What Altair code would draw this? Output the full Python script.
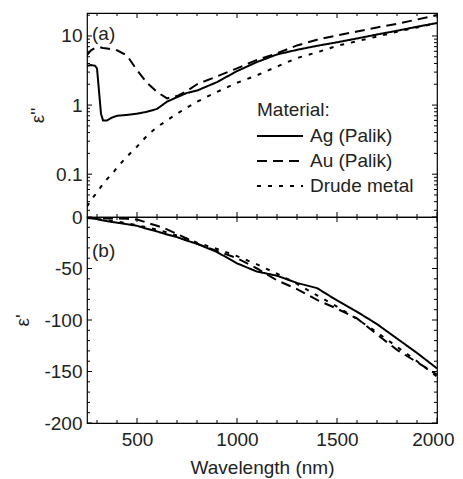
import altair as alt
import pandas as pd

# ---------------- data ----------------
wavelength = [250, 270, 290, 300, 310, 320, 330, 350, 375, 400, 450, 500, 550, 600, 650,
              700, 750, 800, 900, 1000, 1100, 1200, 1300, 1400, 1500, 1600, 1700, 1800, 1900, 2000]

materials = ["Ag (Palik)", "Au (Palik)", "Drude metal"]

# imaginary part eps''
ag_eps2 = [3.7, 3.8, 3.7, 3.4, 1.6, 0.75, 0.6, 0.6, 0.66, 0.7, 0.72, 0.75, 0.8, 0.88, 1.12,
           1.3, 1.5, 1.62, 2.15, 3.1, 4.2, 5.4, 6.3, 7.2, 8.1, 9.2, 10.5, 11.9, 13.6, 15.4]
au_eps2 = [5.3, 6.2, 6.7, 6.8, 6.8, 6.8, 6.7, 6.6, 6.4, 6.2, 5.2, 3.2, 2.1, 1.55, 1.25,
           1.35, 1.6, 2.0, 2.6, 3.4, 4.5, 5.6, 7.3, 8.8, 10.2, 11.6, 13.3, 15.0, 17.3, 20.0]
drude_eps2 = [0.034, 0.042, 0.05, 0.055, 0.06, 0.066, 0.072, 0.085, 0.1, 0.125, 0.18, 0.25, 0.36, 0.48, 0.6,
              0.75, 0.92, 1.12, 1.55, 2.1, 2.7, 3.6, 4.8, 5.8, 7.2, 8.4, 9.8, 11.5, 13.3, 15.4]

# real part eps'
ag_eps1 = [-1, -1.3, -1.8, -2, -2.5, -3, -3.3, -4, -4.8, -5.5, -7, -8.5, -11.5, -14, -17,
           -19.5, -23, -26, -34, -45, -53, -57, -64, -69, -81, -92, -104, -118, -132, -147]
au_eps1 = [-0.5, -0.7, -1, -1, -1.2, -1.3, -1.4, -1.5, -1.5, -1.5, -1.8, -2.5, -5.5, -8.5, -12,
           -16.5, -21, -26, -33, -40, -50, -61.5, -70, -80.5, -89, -98.5, -114, -129, -141, -153]
drude_eps1 = [-0.5, -1, -1.5, -2, -2.2, -2.5, -2.8, -3.2, -3.8, -4.5, -6, -8, -10, -12.5, -15,
              -18, -21, -25, -31, -38, -46, -55, -65, -76, -87, -99, -112, -126, -140, -155]

x_major = [500, 1000, 1500, 2000]
x_minor = [300, 400, 600, 700, 800, 900, 1100, 1200, 1300, 1400, 1600, 1700, 1800, 1900]
top_y_major = [0.1, 1, 10]
top_y_minor = [0.03, 0.04, 0.05, 0.06, 0.07, 0.08, 0.09,
               0.2, 0.3, 0.4, 0.5, 0.6, 0.7, 0.8, 0.9,
               2, 3, 4, 5, 6, 7, 8, 9, 20]
bot_y_major = [-200, -150, -100, -50, 0]
bot_y_minor = [-190, -180, -170, -160, -140, -130, -120, -110, -90, -80, -70, -60,
               -40, -30, -20, -10]

# ---------------- build tables ----------------
def long_table(series, col):
    rows = []
    for m, vals in zip(materials, series):
        for w, v in zip(wavelength, vals):
            rows.append({"wavelength": w, col: v, "material": m})
    return pd.DataFrame(rows)

top_df = long_table([ag_eps2, au_eps2, drude_eps2], "eps2")
bot_df = long_table([ag_eps1, au_eps1, drude_eps1], "eps1")

FONT = "Liberation Sans"
FS = 19
TXT = "#222222"
W, H_TOP, H_BOT = 350, 204, 206
MAJ, MIN = 5, 3

xs = alt.Scale(domain=[250, 2000], nice=False, zero=False)
ys_top = alt.Scale(type="log", domain=[0.024, 21.5], nice=False)
ys_bot = alt.Scale(domain=[-200, 0], nice=False, zero=False)

dash = alt.StrokeDash("material:N",
                      scale=alt.Scale(domain=materials, range=[[1, 0], [10, 6], [4, 7]]),
                      legend=None)

last_x = x_major[-1]
x_top = alt.X("wavelength:Q", scale=xs, axis=None)
x_bot = alt.X("wavelength:Q", scale=xs,
              axis=alt.Axis(values=x_major, format="d", title="Wavelength (nm)",
                            ticks=False, domain=False, labelFlush=False,
                            labelAlign={"condition": {"test": f"datum.value == {last_x}", "value": "right"},
                                        "value": "center"},
                            labelOffset={"condition": {"test": f"datum.value == {last_x}", "value": 17},
                                         "value": 0},
                            labelPadding=7, titlePadding=9))
y_top = alt.Y("eps2:Q", scale=ys_top,
              axis=alt.Axis(values=top_y_major, format="~g", title="ε''",
                            ticks=False, domain=False, labelPadding=5, titlePadding=8))
y_bot = alt.Y("eps1:Q", scale=ys_bot,
              axis=alt.Axis(values=bot_y_major, labelExpr="'' + datum.value", title="ε'",
                            ticks=False, domain=False, labelPadding=5, titlePadding=11))


def tick_layers(xenc, yenc, ycol, ymaj, ymin, H):
    layers = []
    for vals, L in ((x_major, MAJ), (x_minor, MIN)):
        d = pd.DataFrame({"wavelength": vals})
        layers.append(alt.Chart(d).mark_rule(color="black", strokeWidth=1)
                      .encode(x=xenc, y=alt.value(0), y2=alt.value(L)))
        layers.append(alt.Chart(d).mark_rule(color="black", strokeWidth=1)
                      .encode(x=xenc, y=alt.value(H), y2=alt.value(H - L)))
    for vals, L in ((ymaj, MAJ), (ymin, MIN)):
        d = pd.DataFrame({ycol: vals})
        layers.append(alt.Chart(d).mark_rule(color="black", strokeWidth=1)
                      .encode(y=yenc, x=alt.value(0), x2=alt.value(L)))
        layers.append(alt.Chart(d).mark_rule(color="black", strokeWidth=1)
                      .encode(y=yenc, x=alt.value(W), x2=alt.value(W - L)))
    return layers


dummy = pd.DataFrame({"a": [0]})

def label(text, x, y):
    return alt.Chart(dummy).mark_text(text=text, align="left", baseline="middle",
                                      font=FONT, fontSize=FS, color=TXT).encode(
        x=alt.value(x), y=alt.value(y))

# legend (manual, inside panel a)
leg_x0, leg_x1, leg_tx = 170, 216, 223
leg_rows = [123, 148, 173]
legend_layers = [label("Material:", leg_x0, 97)]
for m, yy, sd in zip(materials, leg_rows, [[1, 0], [10, 6], [4, 7]]):
    legend_layers.append(alt.Chart(dummy).mark_rule(color="black", strokeWidth=2, strokeDash=sd)
                         .encode(x=alt.value(leg_x0), x2=alt.value(leg_x1), y=alt.value(yy)))
    legend_layers.append(label(m, leg_tx, yy))

lines_top = alt.Chart(top_df).mark_line(color="black", strokeWidth=2, clip=True).encode(
    x=x_top, y=y_top, strokeDash=dash)
lines_bot = alt.Chart(bot_df).mark_line(color="black", strokeWidth=2, clip=True).encode(
    x=x_bot, y=y_bot, strokeDash=dash)

top = alt.layer(lines_top,
                *tick_layers(x_top, y_top, "eps2", top_y_major, top_y_minor, H_TOP),
                label("(a)", 5, 21),
                *legend_layers).properties(width=W, height=H_TOP)

bot = alt.layer(lines_bot,
                *tick_layers(x_bot, y_bot, "eps1", bot_y_major, bot_y_minor, H_BOT),
                label("(b)", 5, 34)).properties(width=W, height=H_BOT)

chart = alt.vconcat(top, bot, spacing=0, bounds="flush").properties(
    padding={"left": 5, "top": 3, "right": 0, "bottom": 5}
).configure_axis(
    labelFont=FONT, titleFont=FONT, labelFontSize=FS, titleFontSize=FS,
    labelColor=TXT, titleColor=TXT, titleFontWeight="normal", grid=False
).configure_view(stroke="black", strokeWidth=1.2)

chart.save("out.html", embed_options={"renderer": "svg", "actions": False})
